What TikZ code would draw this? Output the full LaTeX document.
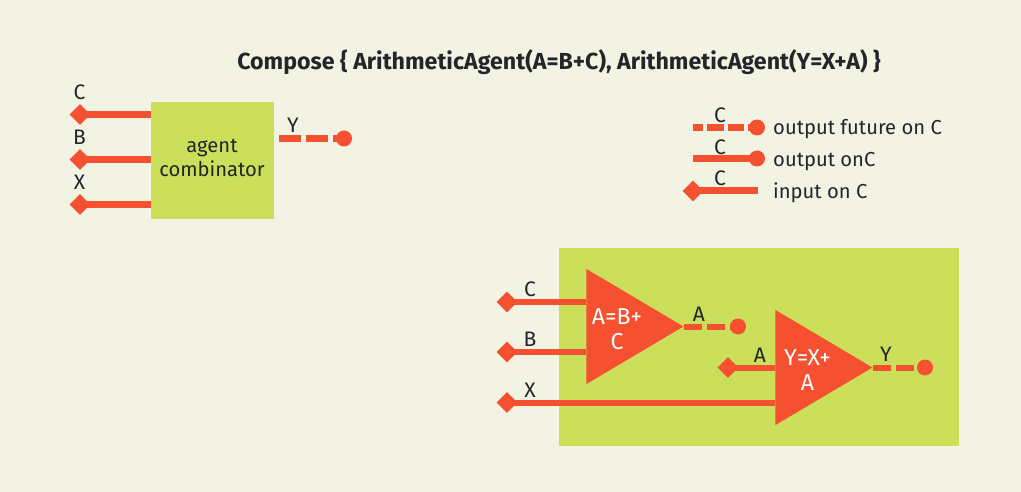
\documentclass[tikz,border=0pt]{standalone}
\usepackage{fontspec}
\setmainfont{Fira Sans}
\usetikzlibrary{shapes.geometric}
\definecolor{bgc}{HTML}{F3F3E4}
\definecolor{greenc}{HTML}{CBDF5B}
\definecolor{redc}{HTML}{F55030}
\definecolor{inkc}{HTML}{232528}
\tikzset{
  txt/.style={text=inkc,inner sep=0pt,font=\fontsize{20.2}{24}\selectfont},
  lbl/.style={txt,anchor=center,font=\fontsize{21}{24}\selectfont},
  leg/.style={txt,anchor=base west},
  inv/.style={text=white,inner sep=0pt,align=center,font=\fontsize{23}{25}\selectfont},
  inport/.style={diamond,fill=redc,minimum size=21pt,inner sep=0pt},
  outport/.style={circle,fill=redc,minimum size=16pt,inner sep=0pt},
  wire/.style={draw=redc,line width=7pt},
  thin wire/.style={draw=redc,line width=6pt},
  fut/.style={draw=redc,line width=7pt,dash pattern=on 22pt off 5pt},
  thin fut/.style={draw=redc,line width=6pt,dash pattern=on 18pt off 5pt},
  tri/.style={isosceles triangle,isosceles triangle stretches,fill=redc,inner sep=0pt,
    minimum width=115pt,minimum height=97pt,anchor=apex}
}
\begin{document}
\begin{tikzpicture}[x=1pt,y=-1pt]
\useasboundingbox[fill=bgc] (0,0) rectangle (1021,492);
\node[txt,font=\fontsize{23.2}{25}\selectfont\bfseries,anchor=center] (title) at (559,62) {Compose \{ ArithmeticAgent(A=B+C), ArithmeticAgent(Y=X+A) \}};
% agent combinator
\node[fill=greenc,minimum width=122.5pt,minimum height=117pt,inner sep=0pt,anchor=north west] (box) at (151,102) {};
\node[txt,align=center] (boxt) at (212,158) {agent\\combinator};
\node[inport] (iC) at (80,114.5) {};
\node[inport] (iB) at (80,159.5) {};
\node[inport] (iX) at (80,204.5) {};
\draw[wire] (iC.center) -- (iC.center -| box.west);
\draw[wire] (iB.center) -- (iB.center -| box.west);
\draw[wire] (iX.center) -- (iX.center -| box.west);
\node[lbl] (lC) at (79.5,92.5) {C};
\node[lbl] (lB) at (79.5,137.5) {B};
\node[lbl] (lX) at (79.5,182.5) {X};
\coordinate (oYs) at (279,138.5);
\node[outport] (oY) at (344,138.5) {};
\draw[fut] (oYs) -- (oY.center);
\node[lbl] (lY) at (293,125) {Y};
% legend
\coordinate (k1s) at (693,127.5);
\node[outport] (k1) at (757,127.5) {};
\draw[draw=redc,line width=7pt,dash pattern=on 10pt off 4pt on 17pt off 4pt on 16pt off 4pt] (k1s) -- (k1.center);
\coordinate (k2s) at (693,158.5);
\node[outport] (k2) at (757,158.5) {};
\draw[wire] (k2s) -- (k2.center);
\coordinate (k3e) at (758,191);
\node[inport] (k3) at (693,191) {};
\draw[wire] (k3.center) -- (k3e);
\node[lbl] (kl1) at (720,115) {C};
\node[lbl] (kl2) at (720,147) {C};
\node[lbl] (kl3) at (720,178) {C};
\node[leg] (kt1) at (773,134.5) {output future on C};
\node[leg] (kt2) at (773,166.5) {output onC};
\node[leg] (kt3) at (773,198.5) {input on C};
% composed
\fill[greenc] (559,248) rectangle (959,446);
\node[inport] (jC) at (507,302) {};
\node[inport] (jB) at (507,352) {};
\node[inport] (jX) at (507,402.5) {};
\node[inport] (jA) at (728,367.5) {};
\node[tri] (t1) at (684,326.5) {};
\node[tri] (t2) at (873,367.5) {};
\draw[thin wire] (jC.center) -- (jC.center -| t1.lower side);
\draw[thin wire] (jB.center) -- (jB.center -| t1.lower side);
\draw[thin wire] (jX.center) -- (jX.center -| t2.lower side);
\draw[thin wire] (jA.center) -- (jA.center -| t2.lower side);
\node[inv] (t1t) at (617,329.5) {A=B+\\C};
\node[inv] (t2t) at (807.5,370.5) {Y=X+\\A};
\node[outport] (oA) at (738,326.5) {};
\node[outport] (oY2) at (925,367.5) {};
\draw[thin fut] (t1.apex) -- (oA.center);
\draw[thin fut] (t2.apex) -- (oY2.center);
\node[lbl] (mC) at (530,289.5) {C};
\node[lbl] (mB) at (530,339.5) {B};
\node[lbl] (mX) at (530,390) {X};
\node[lbl] (mA) at (760,355) {A};
\node[lbl] (mA2) at (699,314) {A};
\node[lbl] (mY) at (886,354) {Y};
\end{tikzpicture}
\end{document}
